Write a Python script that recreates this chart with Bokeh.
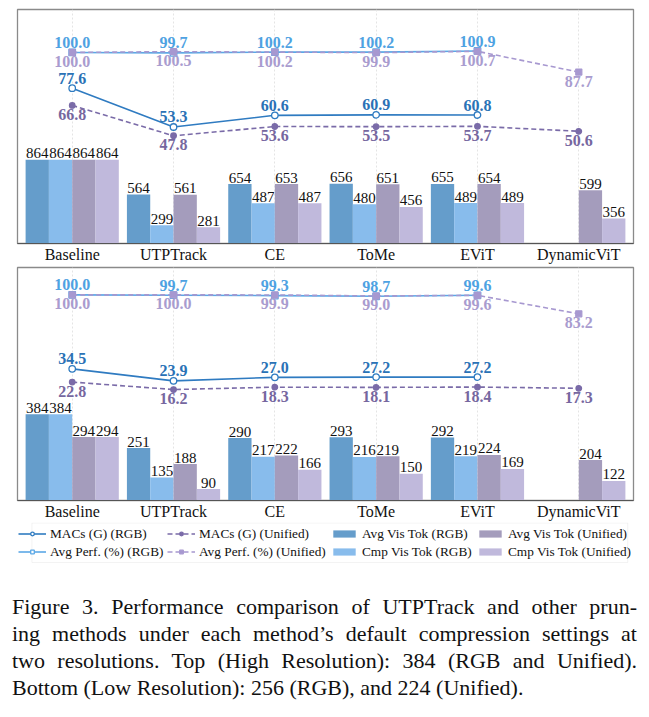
from bokeh.plotting import figure
from bokeh.models import Range1d, FixedTicker, ColumnDataSource, Legend, LegendItem, Div, BoxAnnotation
from bokeh.layouts import column
from bokeh.transform import dodge
from bokeh.core.properties import value
from bokeh.embed import file_html
from bokeh.resources import INLINE

FONT = "Liberation Serif"

methods = ["Baseline", "UTPTrack", "CE", "ToMe", "EViT", "DynamicViT"]

# Top panel: High Resolution
hi_macs_rgb = [77.6, 53.3, 60.6, 60.9, 60.8, None]
hi_macs_uni = [66.8, 47.8, 53.6, 53.5, 53.7, 50.6]
hi_perf_rgb = [100.0, 99.7, 100.2, 100.2, 100.9, None]
hi_perf_uni = [100.0, 100.5, 100.2, 99.9, 100.7, 87.7]
hi_avg_rgb = [864, 564, 654, 656, 655, None]
hi_cmp_rgb = [864, 299, 487, 480, 489, None]
hi_avg_uni = [864, 561, 653, 651, 654, 599]
hi_cmp_uni = [864, 281, 487, 456, 489, 356]

# Bottom panel: Low Resolution
lo_macs_rgb = [34.5, 23.9, 27.0, 27.2, 27.2, None]
lo_macs_uni = [22.8, 16.2, 18.3, 18.1, 18.4, 17.3]
lo_perf_rgb = [100.0, 99.7, 99.3, 98.7, 99.6, None]
lo_perf_uni = [100.0, 100.0, 99.9, 99.0, 99.6, 83.2]
lo_avg_rgb = [384, 251, 290, 293, 292, None]
lo_cmp_rgb = [384, 135, 217, 216, 219, None]
lo_avg_uni = [294, 188, 222, 219, 224, 204]
lo_cmp_uni = [294, 90, 166, 150, 169, 122]

C_AVG_RGB = "#659dcb"
C_CMP_RGB = "#88bcec"
C_AVG_UNI = "#a49cbc"
C_CMP_UNI = "#c0b9dc"
C_MACS_RGB = "#2f7bc1"
C_MACS_UNI = "#7a6ba8"
C_PERF_RGB = "#5ba8e6"
C_PERF_UNI = "#a798d0"
L_MACS_RGB = "#2a72b6"
L_MACS_UNI = "#76679f"
L_PERF_RGB = "#4ea2e2"
L_PERF_UNI = "#a99ccf"


def src(vals, fmt):
    xs = [i for i, v in enumerate(vals) if v is not None]
    vs = [v for v in vals if v is not None]
    return ColumnDataSource(dict(x=xs, v=vs, t=[fmt.format(v) for v in vs]))


def draw_series(p, data, with_labels=True, xname="default", bname="default", lname="line"):
    macs_rgb, macs_uni, perf_rgb, perf_uni, avg_rgb, cmp_rgb, avg_uni, cmp_uni = data
    rs = {}
    bar_specs = [
        (avg_rgb, -0.345, C_AVG_RGB, "Avg Vis Tok (RGB)"),
        (cmp_rgb, -0.115, C_CMP_RGB, "Cmp Vis Tok (RGB)"),
        (avg_uni, 0.115, C_AVG_UNI, "Avg Vis Tok (Unified)"),
        (cmp_uni, 0.345, C_CMP_UNI, "Cmp Vis Tok (Unified)"),
    ]
    for vals, off, col, name in bar_specs:
        s = src(vals, "{}")
        r = p.vbar(x=dodge("x", off), top="v", bottom=0, width=0.23, source=s,
                   fill_color=col, line_color=None,
                   x_range_name=xname, y_range_name=bname)
        if with_labels:
            p.text(x=dodge("x", off), y="v", text="t", source=s,
                   text_font=value(FONT), text_font_size="15px", text_color="#111111",
                   text_align="center", text_baseline="middle", y_offset=-6.5,
                   x_range_name=xname, y_range_name=bname)
        rs[name] = [r]

    line_specs = [
        (perf_rgb, C_PERF_RGB, "solid", "square", "white", 6.5, L_PERF_RGB, -10, "Avg Perf. (%) (RGB)"),
        (perf_uni, C_PERF_UNI, "5 3", "square", C_PERF_UNI, 6, L_PERF_UNI, 9, "Avg Perf. (%) (Unified)"),
        (macs_rgb, C_MACS_RGB, "solid", "circle", "white", 6.5, L_MACS_RGB, -10, "MACs (G) (RGB)"),
        (macs_uni, C_MACS_UNI, "5 3", "circle", C_MACS_UNI, 5.5, L_MACS_UNI, 9, "MACs (G) (Unified)"),
    ]
    label_jobs = []
    for vals, col, dash, marker, fill, size, lcol, yoff, name in line_specs:
        s = src(vals, "{:.1f}")
        lr = p.line("x", "v", source=s, line_color=col, line_width=1.6, line_dash=dash,
                    x_range_name=xname, y_range_name=lname)
        sr = p.scatter("x", "v", source=s, marker=marker, size=size, fill_color=fill,
                       line_color=col, line_width=1.3,
                       x_range_name=xname, y_range_name=lname)
        rs[name] = [lr, sr]
        label_jobs.append((s, lcol, yoff))
    if with_labels:
        for s, lcol, yoff in label_jobs:
            p.text("x", "v", text="t", source=s,
                   text_font=value(FONT), text_font_size="16px", text_font_style="bold",
                   text_color=lcol, text_align="center", text_baseline="middle",
                   y_offset=yoff, x_range_name=xname, y_range_name=lname)
    return rs


def make_panel(data, bar_range, line_range, frame_h, top_border):
    p = figure(frame_width=616, frame_height=frame_h,
               x_range=Range1d(-0.54, 5.54), y_range=Range1d(*bar_range),
               output_backend="svg", toolbar_location=None,
               min_border_left=17, min_border_right=8,
               min_border_top=top_border, min_border_bottom=0)
    p.extra_y_ranges = {"line": Range1d(*line_range)}
    p.yaxis.visible = False
    p.ygrid.visible = False
    p.xgrid.grid_line_color = "#e4e4e4"
    p.xgrid.grid_line_dash = "2 2"
    p.outline_line_color = "#8a8a8a"
    p.outline_line_width = 1.3
    p.background_fill_color = "white"
    p.border_fill_color = "white"
    ax = p.xaxis[0]
    ax.ticker = FixedTicker(ticks=list(range(len(methods))))
    ax.major_label_overrides = {i: m for i, m in enumerate(methods)}
    ax.major_label_text_font = FONT
    ax.major_label_text_font_size = "16px"
    ax.major_label_text_color = "#111111"
    ax.major_tick_line_color = None
    ax.minor_tick_line_color = None
    ax.major_tick_out = 0
    ax.major_tick_in = 0
    ax.major_label_standoff = 2
    ax.axis_label_standoff = 0
    ax.axis_line_color = "#555555"
    ax.axis_line_width = 1.2
    draw_series(p, data)
    return p


hi_data = (hi_macs_rgb, hi_macs_uni, hi_perf_rgb, hi_perf_uni, hi_avg_rgb, hi_cmp_rgb, hi_avg_uni, hi_cmp_uni)
lo_data = (lo_macs_rgb, lo_macs_uni, lo_perf_rgb, lo_perf_uni, lo_avg_rgb, lo_cmp_rgb, lo_avg_uni, lo_cmp_uni)

top = make_panel(hi_data, (140.5, 2160), (-19.7, 126.9), 234, 9)
bottom = make_panel(lo_data, (45, 960), (-82, 124.2), 233, 2)

# Legend strip: pixel-mapped view; the series are drawn into ranges outside the data
LEG_H = 44
leg_fig = figure(width=641, height=LEG_H, x_range=Range1d(0, 641), y_range=Range1d(LEG_H, 0),
                 output_backend="svg", toolbar_location=None,
                 min_border_left=0, min_border_right=0, min_border_top=0, min_border_bottom=0)
leg_fig.extra_x_ranges = {"off": Range1d(100, 101)}
leg_fig.extra_y_ranges = {"off": Range1d(5000, 5001)}
leg_fig.xaxis.visible = False
leg_fig.yaxis.visible = False
leg_fig.grid.visible = False
leg_fig.outline_line_color = None
leg_rs = draw_series(leg_fig, lo_data, with_labels=False, xname="off", bname="off", lname="off")

leg_fig.add_layout(BoxAnnotation(left=15, right=635, top=0.5, bottom=40,
                                 fill_alpha=0, line_color="#d8d8d8", line_width=1))

legend_cols = [
    (1, ["MACs (G) (RGB)", "Avg Perf. (%) (RGB)"]),
    (150, ["MACs (G) (Unified)", "Avg Perf. (%) (Unified)"]),
    (313, ["Avg Vis Tok (RGB)", "Cmp Vis Tok (RGB)"]),
    (459, ["Avg Vis Tok (Unified)", "Cmp Vis Tok (Unified)"]),
]
for lx, names in legend_cols:
    lg = Legend(items=[LegendItem(label=n, renderers=leg_rs[n]) for n in names],
                orientation="vertical", location=(lx, 6.5),
                label_text_font=FONT, label_text_font_size="13.3px", label_text_color="#111111",
                glyph_width=28, glyph_height=9, label_height=14, label_standoff=4,
                spacing=2, padding=0, margin=0,
                border_line_color=None, background_fill_alpha=0)
    leg_fig.add_layout(lg, "center")

cap_lines = [
    "Figure 3. Performance comparison of UTPTrack and other prun-",
    "ing methods under each method\u2019s default compression settings at",
    "two resolutions. Top (High Resolution): 384 (RGB and Unified).",
    "Bottom (Low Resolution): 256 (RGB), and 224 (Unified).",
]
html = "<div style=\"font-family:'Liberation Serif';font-size:22px;line-height:27px;color:#111;width:625px;\">"
for i, ln in enumerate(cap_lines):
    if i < len(cap_lines) - 1:
        html += "<div style='text-align:justify;text-align-last:justify;white-space:nowrap'>" + ln + "</div>"
    else:
        html += "<div style='text-align:left;white-space:nowrap'>" + ln + "</div>"
html += "</div>"
cap = Div(text=html, width=625, margin=(27, 0, 0, 12))

layout = column(top, bottom, leg_fig, cap, spacing=0)
open("out.html", "w").write(file_html(layout, INLINE))
